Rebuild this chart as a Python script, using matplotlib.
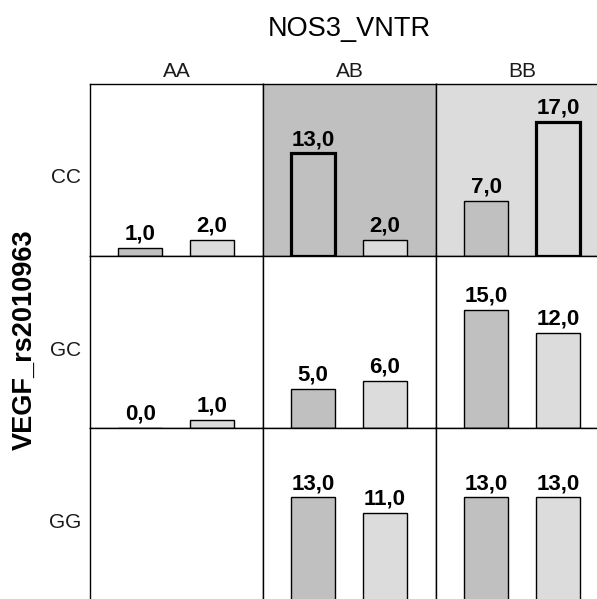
import matplotlib
matplotlib.use("Agg")
import matplotlib.pyplot as plt

plt.rcParams['font.family'] = ['Liberation Sans', 'DejaVu Sans']

# data
col_labels = ["AA", "AB", "BB"]
row_labels = ["CC", "GC", "GG"]
first_vals = [[1, 13, 7], [0, 5, 15], [None, 13, 13]]
second_vals = [[2, 2, 17], [1, 6, 12], [None, 11, 13]]
# panels with a shaded background and bars drawn with a heavy outline
panel_bg = {(0, 1): "#c0c0c0", (0, 2): "#dcdcdc"}
heavy_bars = {(0, 1, 0), (0, 2, 1)}

bar_colors = ["#c0c0c0", "#dcdcdc"]

W, H = 597, 599
fig = plt.figure(figsize=(W / 100, H / 100), dpi=100)

left, top, pw, ph = 90, 84, 173, 172

for r, rname in enumerate(row_labels):
    for c, cname in enumerate(col_labels):
        x0 = left + c * pw
        y0 = top + r * ph
        ax = fig.add_axes([x0 / W, (H - y0 - ph) / H, pw / W, ph / H])
        ax.set_facecolor(panel_bg.get((r, c), "white"))
        ax.set_xlim(-0.70, 1.71)
        ax.set_ylim(0, 21.8)
        ax.set_xticks([])
        ax.set_yticks([])
        for sp in ax.spines.values():
            sp.set_linewidth(1)
            sp.set_color("black")

        vals = [first_vals[r][c], second_vals[r][c]]
        for i, v in enumerate(vals):
            if v is None:
                continue
            lw = 2.3 if (r, c, i) in heavy_bars else 1.0
            ax.bar(i, v, width=0.61, color=bar_colors[i], edgecolor="black",
                   linewidth=lw, zorder=2)
            ax.annotate(f"{v:.1f}".replace(".", ","), (i, v),
                        xytext=(0, 6), textcoords="offset points",
                        ha="center", va="baseline", fontsize=16,
                        fontweight="bold", zorder=3)

        if r == 0:
            fig.text((x0 + pw / 2) / W, 1 - 77 / H, cname, ha="center",
                     va="baseline", fontsize=15, color="#1a1a1a")
        if c == 0:
            fig.text(81 / W, 1 - (y0 + ph / 2 + 8) / H, rname,
                     ha="right", va="center", fontsize=15, color="#1a1a1a")

fig.text((left + 3 * pw / 2) / W, 1 - 36 / H, "NOS3_VNTR", ha="center",
         va="baseline", fontsize=19.5)
fig.text(25 / W, 1 - 340 / H, "VEGF_rs2010963", rotation=90,
         ha="center", va="center", fontsize=19.5, fontweight="bold")

fig.savefig("out.png", dpi=100)
